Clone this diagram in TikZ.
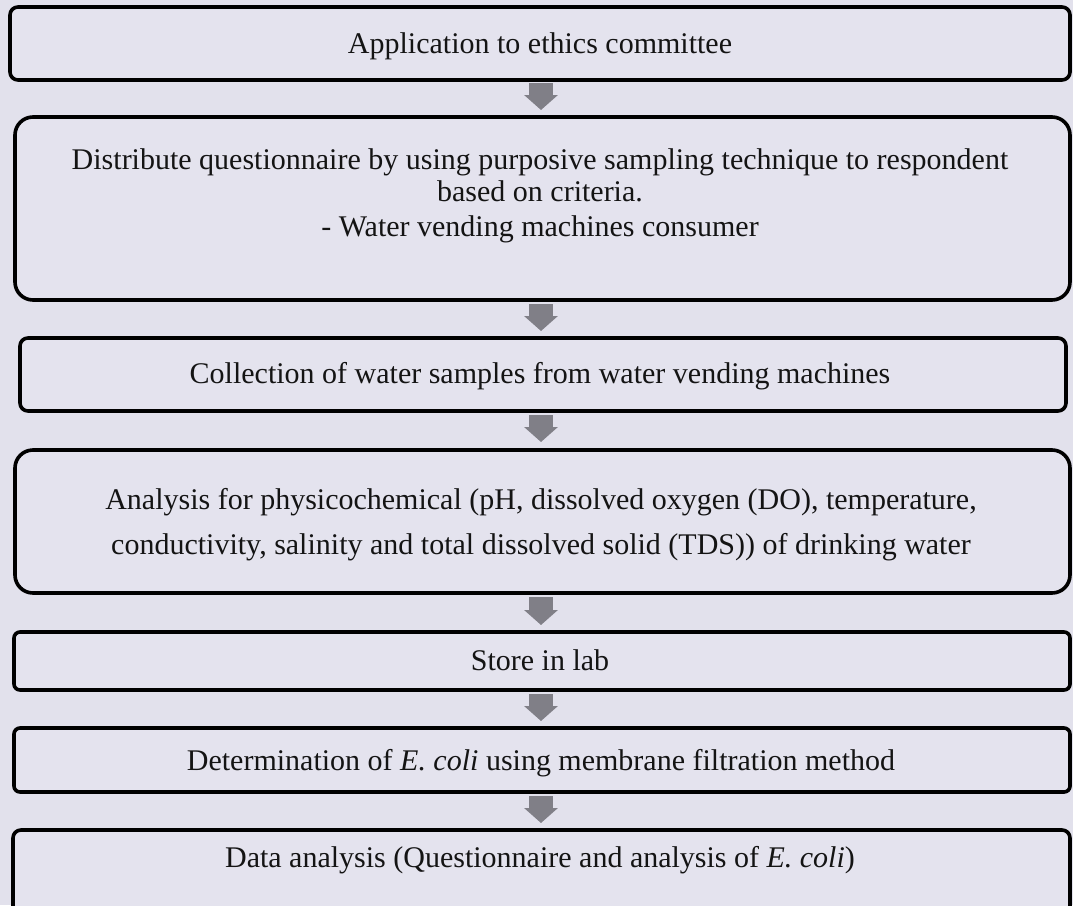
\documentclass[tikz,border=0pt]{standalone}
\usepackage{fontspec}
\setmainfont{Liberation Serif}
\usetikzlibrary{arrows.meta}
\definecolor{pagebg}{RGB}{226,225,236}
\definecolor{boxfill}{RGB}{228,227,238}
\definecolor{arrowgray}{RGB}{128,127,135}
\tikzset{
  flowbox/.style={draw=black, line width=3.6pt, fill=boxfill, rectangle, inner sep=0pt, rounded corners=8pt},
  bigbox/.style={flowbox, rounded corners=18pt},
  boxtext/.style={inner sep=0pt, anchor=base, text=black!92, font=\fontsize{30pt}{34pt}\selectfont},
  blockarrow/.style={draw=arrowgray, line width=24pt, -{Triangle[width=33pt,length=15pt]}}
}
\begin{document}
\begin{tikzpicture}[x=1pt,y=-1pt]
\useasboundingbox (0,0) rectangle (1073,905);
\fill[pagebg] (0,0) rectangle (1073,905);
\begin{scope}
\clip (0,0) rectangle (1073,905);
\node[flowbox, minimum width=1060pt, minimum height=73pt] (b1) at (540,43.5) {};
\node[bigbox, minimum width=1055pt, minimum height=183pt] (b2) at (542.5,208.5) {};
\node[flowbox, minimum width=1046pt, minimum height=73pt] (b3) at (543,374.5) {};
\node[bigbox, minimum width=1055pt, minimum height=143pt] (b4) at (542.5,521.5) {};
\node[flowbox, rounded corners=6pt, minimum width=1056pt, minimum height=58pt] (b5) at (542,661) {};
\node[flowbox, rounded corners=6pt, minimum width=1056pt, minimum height=64pt] (b6) at (542,760) {};
\node[flowbox, minimum width=1057pt, minimum height=90pt] (b7) at (541.5,875) {};
\end{scope}

\node[boxtext] (t1) at (540,53) {Application to ethics committee};
\node[boxtext] (t2a) at (540,169) {Distribute questionnaire by using purposive sampling technique to respondent};
\node[boxtext] (t2b) at (540,201) {based on criteria.};
\node[boxtext] (t2c) at (540,236) {- Water vending machines consumer};
\node[boxtext] (t3) at (540,383) {Collection of water samples from water vending machines};
\node[boxtext] (t4a) at (541,509) {Analysis for physicochemical (pH, dissolved oxygen (DO), temperature,};
\node[boxtext] (t4b) at (541,554) {conductivity, salinity and total dissolved solid (TDS)) of drinking water};
\node[boxtext] (t5) at (540,670) {Store in lab};
\node[boxtext] (t6) at (541,770) {Determination of \textit{E. coli} using membrane filtration method};
\node[boxtext] (t7) at (540,867) {Data analysis (Questionnaire and analysis of \textit{E. coli})};

\coordinate (a1s) at (541,83);  \coordinate (a1e) at (541,110);
\coordinate (a2s) at (541,304); \coordinate (a2e) at (541,331);
\coordinate (a3s) at (541,415); \coordinate (a3e) at (541,442);
\coordinate (a4s) at (541,597); \coordinate (a4e) at (541,625);
\coordinate (a5s) at (541,694); \coordinate (a5e) at (541,721);
\coordinate (a6s) at (541,796); \coordinate (a6e) at (541,823);
\draw[blockarrow] (a1s) -- (a1e);
\draw[blockarrow] (a2s) -- (a2e);
\draw[blockarrow] (a3s) -- (a3e);
\draw[blockarrow] (a4s) -- (a4e);
\draw[blockarrow] (a5s) -- (a5e);
\draw[blockarrow] (a6s) -- (a6e);
\end{tikzpicture}
\end{document}
